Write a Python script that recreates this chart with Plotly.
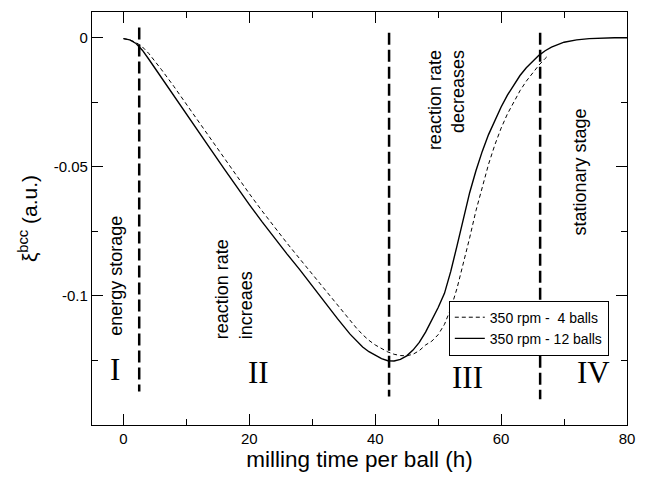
import plotly.graph_objects as go

# ---- data ----
t_12 = [0, 1, 2, 3, 4, 5, 6, 8, 10, 12, 14, 16, 18, 20, 22, 24, 26, 28, 30, 32, 34, 36, 37, 38, 39, 40,
        41, 42, 43, 44, 45, 46, 47, 48, 49, 50, 51, 52, 53, 54, 55, 56, 57, 58, 59, 60, 61, 62, 63, 64,
        65, 66, 67, 68, 70, 72, 74, 76, 78, 80]
xi_12 = [-0.0003, -0.0008, -0.0022, -0.0048, -0.0082, -0.0118, -0.0153, -0.0223, -0.0294, -0.0366,
         -0.0437, -0.0508, -0.0578, -0.0646, -0.0712, -0.0776, -0.0838, -0.0898, -0.0962, -0.1025,
         -0.1088, -0.1148, -0.1175, -0.1198, -0.1216, -0.1231, -0.1243, -0.1251, -0.1252, -0.1246,
         -0.1232, -0.1210, -0.1180, -0.1140, -0.1095, -0.1045, -0.0990, -0.0905, -0.0805, -0.0700,
         -0.0600, -0.0515, -0.0440, -0.0375, -0.0318, -0.0268, -0.0222, -0.0182, -0.0146, -0.0116,
         -0.0090, -0.0068, -0.0050, -0.0036, -0.0017, -0.0008, -0.0003, -0.0001, 0.0, 0.0]

t_4 = [0, 1, 2, 3, 4, 5, 6, 8, 10, 12, 14, 16, 18, 20, 22, 24, 26, 28, 30, 32, 34, 36, 37, 38, 39, 40,
       41, 42, 43, 44, 45, 46, 47, 48, 49, 50, 51, 52, 53, 54, 55, 56, 57, 58, 59, 60, 61, 62, 63, 64,
       65, 66, 67, 67.5]
xi_4 = [-0.0003, -0.0008, -0.0018, -0.0035, -0.0060, -0.0090, -0.0122, -0.0188, -0.0258, -0.0328,
        -0.0398, -0.0468, -0.0537, -0.0604, -0.0670, -0.0734, -0.0796, -0.0856, -0.0916, -0.0976,
        -0.1036, -0.1096, -0.1124, -0.1150, -0.1172, -0.1190, -0.1205, -0.1217, -0.1226, -0.1231,
        -0.1232, -0.1226, -0.1212, -0.1190, -0.1175, -0.1150, -0.1110, -0.1050, -0.0970, -0.0875,
        -0.0775, -0.0670, -0.0575, -0.0490, -0.0415, -0.0350, -0.0295, -0.0248, -0.0205, -0.0168,
        -0.0135, -0.0106, -0.0080, -0.0068]

stage_x = [2.5, 42.2, 66.2]
stage_top = [0.004, 0.002, 0.002]
stage_bottom = [-0.137, -0.139, -0.140]

roman_labels = ["I", "II", "III", "IV"]
roman_x = [-1.3, 21.5, 54.6, 74.6]
roman_y = [-0.1285, -0.1295, -0.1315, -0.1298]

series_names = ["350 rpm -  4 balls", "350 rpm - 12 balls"]

fig = go.Figure()

fig.add_trace(go.Scatter(x=t_4, y=xi_4, mode="lines", name=series_names[0],
                         line=dict(color="black", width=1, dash="4px,3px")))
fig.add_trace(go.Scatter(x=t_12, y=xi_12, mode="lines", name=series_names[1],
                         line=dict(color="black", width=1.4)))

for sx, st, sb in zip(stage_x, stage_top, stage_bottom):
    fig.add_trace(go.Scatter(x=[sx, sx], y=[st, sb], mode="lines", showlegend=False,
                             line=dict(color="black", width=2.5, dash="12px,5px"), hoverinfo="skip"))

for lab, rx, ry in zip(roman_labels, roman_x, roman_y):
    fig.add_annotation(x=rx, y=ry, text=lab, showarrow=False,
                       font=dict(family="Liberation Serif", size=31, color="black"))

txt_font = dict(family="Liberation Sans", size=18, color="black")
fig.add_annotation(x=-1.1, y=-0.0924, text="energy storage", textangle=-90, showarrow=False, font=txt_font)
fig.add_annotation(x=17.6, y=-0.0973, text="reaction rate<br>increaes", textangle=-90, align="left",
                   showarrow=False, font=txt_font)
fig.add_annotation(x=51.3, y=-0.024, text="reaction rate<br>decreases", textangle=-90, align="right",
                   showarrow=False, font=txt_font)
fig.add_annotation(x=72.6, y=-0.052, text="stationary stage", textangle=-90, showarrow=False, font=txt_font)

axis_common = dict(showline=True, linecolor="black", linewidth=1.3, mirror="ticks", ticks="inside",
                   ticklen=11, tickwidth=1, tickcolor="black", showgrid=False, zeroline=False,
                   tickfont=dict(family="Liberation Sans", size=15, color="black"))

fig.update_xaxes(range=[-5, 80], dtick=20, tick0=0,
                 minor=dict(dtick=10, ticks="inside", ticklen=6, tickcolor="black", tickwidth=1),
                 title=dict(text="milling time per ball (h)", standoff=4,
                            font=dict(family="Liberation Sans", size=22.5, color="black")),
                 **axis_common)
fig.update_yaxes(range=[-0.15, 0.01], tickvals=[0, -0.05, -0.1], ticktext=["0", "-0.05", "-0.1"],
                 minor=dict(tickvals=[-0.025, -0.075, -0.125], ticks="inside", ticklen=6,
                            tickcolor="black", tickwidth=1),
                 title=dict(text="ξ<sup>bcc</sup> (a.u.)", standoff=10,
                            font=dict(family="Liberation Sans", size=21, color="black")),
                 **axis_common)

fig.update_layout(
    width=645, height=477,
    margin=dict(l=92, r=10, t=12, b=45),
    paper_bgcolor="white", plot_bgcolor="white",
    showlegend=True,
    legend=dict(x=0.966, y=0.168, xanchor="right", yanchor="bottom",
                bgcolor="white", bordercolor="black", borderwidth=1,
                font=dict(family="Liberation Sans", size=14, color="black"),
                tracegroupgap=0, itemwidth=30),
)

fig.write_html("out.html")
